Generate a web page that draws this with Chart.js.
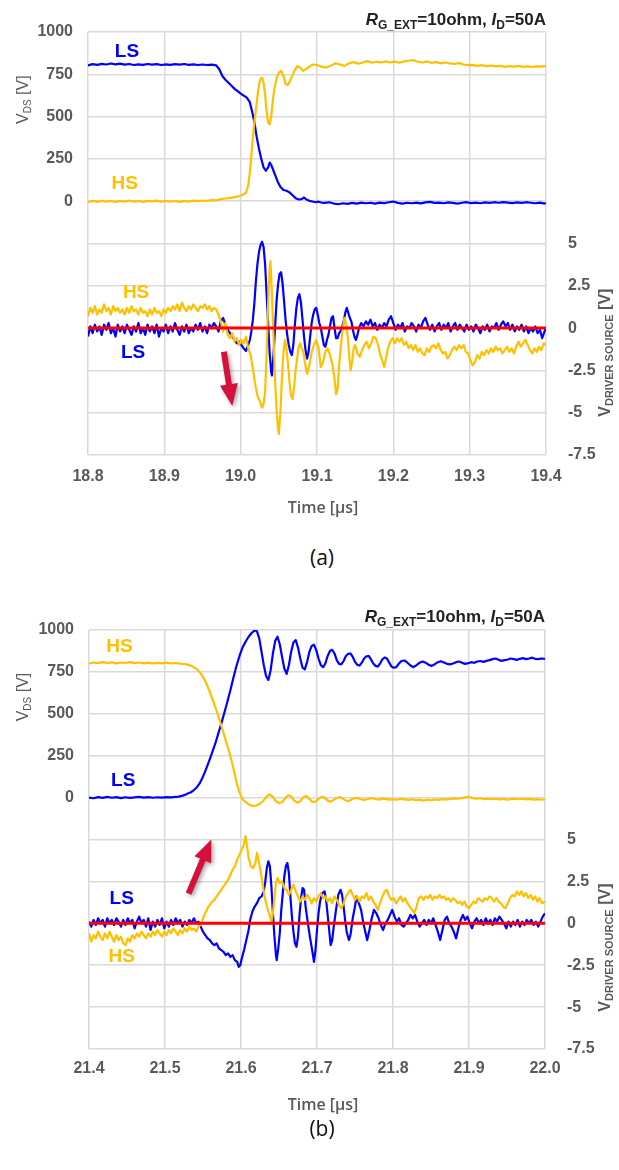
<!DOCTYPE html>
<html><head><meta charset="utf-8">
<script src="https://cdn.jsdelivr.net/npm/chart.js@4.4.1/dist/chart.umd.min.js"></script>
<style>
html,body{margin:0;padding:0;background:#fff;width:619px;height:1170px;overflow:hidden;position:relative;}
canvas{position:absolute;left:0;}
#ca{top:0;} #cb{top:580px;}
.cap{position:absolute;left:0;width:644px;text-align:center;font-family:'Open Sans',sans-serif;font-size:21px;line-height:28px;color:#111;}
</style></head><body>
<canvas id="ca" width="619" height="530"></canvas>
<div class="cap" style="top:543px;">(a)</div>
<canvas id="cb" width="619" height="540"></canvas>
<div class="cap" style="top:1114px;">(b)</div>
<script>
// ---------- tick labels ----------
const VDS_TICKS = [0, 250, 500, 750, 1000];
const DRV_TICKS = [5, 2.5, 0, -2.5, -5, -7.5];
const RANGE_A = [18.8, 19.4];
const RANGE_B = [21.4, 22.0];

// ---------- (a) series: [time µs, value] ----------
const A_LS_VDS = [[18.800,802],[18.806,810],[18.812,806],[18.818,812],[18.824,808],[18.830,814],[18.836,809],[18.842,813],[18.848,807],[18.854,811],[18.860,805],[18.866,809],[18.872,806],[18.878,811],[18.884,807],[18.890,810],[18.896,805],[18.902,809],[18.908,806],[18.914,810],[18.920,807],[18.926,811],[18.932,806],[18.938,809],[18.944,805],[18.950,808],[18.956,805],[18.962,807],[18.968,803],
[18.972,780],[18.976,740],[18.980,718],[18.984,700],[18.988,682],[18.992,664],[18.996,650],[19.000,636],[19.004,624],[19.008,612],[19.012,585],[19.015,530],[19.018,465],[19.021,380],[19.024,310],[19.027,250],[19.030,200],[19.033,180],[19.036,200],[19.038,228],[19.040,215],[19.043,180],[19.046,145],[19.049,110],[19.052,85],[19.056,66],[19.060,62],[19.064,52],[19.068,35],[19.072,18],[19.076,10],[19.080,12],[19.083,22],[19.086,10],[19.090,2],[19.094,-2],[19.098,-6],[19.102,-3],[19.106,-8],
[19.110,-10],[19.116,-6],[19.122,-14],[19.128,-18],[19.134,-12],[19.140,-16],[19.146,-10],[19.152,-14],[19.158,-8],[19.164,-12],[19.170,-9],[19.176,-14],[19.182,-8],[19.188,-11],[19.194,-6],[19.200,-2],[19.206,-10],[19.212,-14],[19.218,-9],[19.224,-12],[19.230,-8],[19.236,-13],[19.242,-7],[19.248,-4],[19.254,-10],[19.260,-8],[19.266,-12],[19.272,-7],[19.278,-10],[19.284,-14],[19.290,-9],[19.296,-6],[19.302,-11],[19.308,-8],[19.314,-12],[19.320,-7],[19.326,-10],[19.332,-6],[19.338,-9],[19.344,-5],[19.350,-8],[19.356,-11],[19.362,-7],[19.368,-10],[19.374,-6],[19.380,-9],[19.386,-12],[19.392,-8],[19.398,-14],[19.400,-10]];

const A_HS_VDS = [[18.800,-6],[18.806,2],[18.812,-4],[18.818,3],[18.824,-3],[18.830,1],[18.836,-5],[18.842,2],[18.848,-2],[18.854,4],[18.860,-3],[18.866,1],[18.872,-4],[18.878,2],[18.884,-1],[18.890,3],[18.896,-3],[18.902,2],[18.908,-2],[18.914,1],[18.920,-4],[18.926,2],[18.932,-2],[18.938,3],[18.944,0],[18.950,4],[18.956,2],[18.962,6],[18.968,5],[18.974,12],[18.980,16],[18.986,20],[18.992,24],[18.998,30],[19.003,38],[19.007,50],
[19.010,95],[19.012,170],[19.014,270],[19.016,380],[19.018,470],[19.020,540],[19.022,620],[19.024,690],[19.026,722],[19.028,730],[19.030,700],[19.032,630],[19.034,530],[19.036,465],[19.038,455],[19.040,500],[19.042,590],[19.044,660],[19.047,725],[19.050,760],[19.053,770],[19.056,740],[19.059,690],[19.062,688],[19.065,715],[19.068,745],[19.071,775],[19.074,798],[19.078,790],[19.082,770],[19.086,782],[19.090,796],[19.095,808],[19.100,805],[19.106,795],[19.112,790],[19.118,800],[19.124,815],[19.130,808],[19.136,800],[19.142,815],[19.148,822],[19.154,812],[19.160,820],[19.166,828],[19.172,818],[19.178,824],[19.184,820],[19.190,826],[19.196,820],[19.202,825],[19.208,818],[19.214,826],[19.220,830],[19.226,834],[19.232,824],[19.238,820],[19.244,826],[19.250,818],[19.256,822],[19.262,815],[19.268,820],[19.274,814],[19.280,812],[19.286,816],[19.292,808],[19.298,804],[19.304,806],[19.310,800],[19.316,804],[19.322,798],[19.328,802],[19.334,797],[19.340,800],[19.346,794],[19.352,798],[19.358,795],[19.364,799],[19.370,794],[19.376,797],[19.382,793],[19.388,797],[19.394,795],[19.400,800]];

const A_HS_DRV = [[18.800,0.7],[18.803,1.2],[18.806,0.9],[18.809,1.3],[18.812,0.8],[18.815,1.1],[18.818,0.9],[18.821,1.4],[18.824,1.0],[18.827,1.2],[18.830,0.8],[18.833,1.3],[18.836,1.0],[18.839,1.2],[18.842,0.9],[18.845,1.1],[18.848,0.8],[18.851,1.2],[18.854,0.9],[18.857,1.3],[18.860,1.0],[18.863,1.1],[18.866,0.8],[18.869,1.2],[18.872,0.9],[18.875,1.0],[18.878,0.7],[18.881,1.1],[18.884,0.8],[18.887,1.2],[18.890,0.9],[18.893,1.0],[18.896,0.7],[18.899,1.1],[18.902,0.9],[18.905,1.2],[18.908,1.0],[18.911,1.3],[18.914,1.1],[18.917,1.4],[18.920,1.0],[18.923,1.5],[18.926,1.2],[18.929,1.0],[18.932,1.3],[18.935,1.1],[18.938,1.4],[18.941,1.2],[18.944,1.0],[18.947,1.3],[18.950,1.2],[18.953,1.4],[18.956,1.1],[18.959,1.3],[18.962,1.0],[18.965,1.2],[18.968,1.1],[18.971,0.8],[18.974,0.4],[18.977,-0.2],[18.980,0.3],[18.983,-0.4],[18.986,-0.6],[18.989,-0.3],[18.992,-0.8],[18.995,-0.6],[18.998,-1.0],[19.001,-0.7],[19.004,-0.9],[19.007,-0.5],[19.010,-1.2],[19.013,-1.6],[19.016,-2.4],[19.019,-3.3],[19.022,-4.0],[19.025,-4.3],[19.028,-4.7],[19.030,-4.5],[19.032,-3.8],[19.034,-1.5],[19.036,1.5],[19.038,3.6],[19.039,3.95],[19.041,2.0],[19.043,-0.5],[19.045,-3.0],[19.047,-4.8],[19.049,-6.0],[19.050,-6.25],[19.052,-5.0],[19.054,-3.0],[19.056,-1.5],[19.058,-0.7],[19.060,-1.2],[19.062,-2.1],[19.064,-3.2],[19.066,-4.0],[19.068,-4.2],[19.070,-3.5],[19.072,-2.5],[19.074,-1.8],[19.076,-1.1],[19.078,-0.9],[19.080,-1.2],[19.082,-1.4],[19.084,-2.0],[19.087,-2.7],[19.090,-2.2],[19.093,-1.4],[19.096,-1.0],[19.099,-0.7],[19.102,-1.2],[19.105,-2.3],[19.108,-2.0],[19.111,-1.4],[19.114,-1.2],[19.117,-1.6],[19.120,-2.1],[19.123,-3.0],[19.125,-3.9],[19.127,-3.6],[19.129,-2.2],[19.131,-1.2],[19.133,-0.3],[19.136,0.6],[19.138,0.3],[19.140,-0.4],[19.142,-1.5],[19.144,-2.5],[19.146,-2.0],[19.148,-1.2],[19.150,-1.0],[19.153,-1.5],[19.156,-1.7],[19.159,-1.3],[19.162,-1.0],[19.165,-0.8],[19.168,-1.2],[19.171,-0.9],[19.174,-0.5],[19.177,-0.6],[19.180,-1.0],[19.183,-1.6],[19.186,-2.0],[19.188,-2.3],[19.190,-1.9],[19.193,-1.2],[19.196,-0.8],[19.199,-0.6],[19.202,-0.9],[19.205,-0.6],[19.208,-0.8],[19.211,-0.6],[19.214,-1.0],[19.217,-0.8],[19.220,-1.2],[19.223,-1.0],[19.226,-1.3],[19.229,-1.0],[19.232,-1.4],[19.235,-1.2],[19.238,-1.5],[19.241,-1.6],[19.244,-1.2],[19.247,-1.4],[19.250,-1.1],[19.253,-1.0],[19.256,-1.2],[19.259,-0.9],[19.262,-1.3],[19.265,-1.5],[19.268,-1.4],[19.271,-1.8],[19.274,-1.6],[19.277,-1.3],[19.280,-1.1],[19.283,-1.3],[19.286,-1.0],[19.289,-1.2],[19.292,-1.0],[19.295,-1.4],[19.298,-1.5],[19.301,-1.9],[19.304,-2.2],[19.307,-2.0],[19.310,-1.6],[19.313,-1.8],[19.316,-1.4],[19.319,-1.6],[19.322,-1.3],[19.325,-1.5],[19.328,-1.2],[19.331,-1.4],[19.334,-1.1],[19.337,-1.3],[19.340,-1.2],[19.343,-1.5],[19.346,-1.3],[19.349,-1.1],[19.352,-1.4],[19.355,-1.2],[19.358,-1.5],[19.361,-1.1],[19.364,-0.8],[19.367,-1.1],[19.370,-0.9],[19.373,-0.7],[19.376,-1.0],[19.379,-1.3],[19.382,-1.5],[19.385,-1.2],[19.388,-1.4],[19.391,-1.1],[19.394,-1.3],[19.397,-0.9],[19.400,-1.0]];

const A_LS_DRV = [[18.800,-0.5],[18.803,0.1],[18.806,-0.3],[18.809,0.2],[18.812,-0.2],[18.815,0.1],[18.818,-0.4],[18.821,0.2],[18.824,-0.1],[18.827,0.3],[18.830,-0.3],[18.833,0.0],[18.836,-0.5],[18.839,0.2],[18.842,-0.2],[18.845,0.1],[18.848,-0.3],[18.851,0.2],[18.854,-0.1],[18.857,-0.4],[18.860,0.1],[18.863,-0.2],[18.866,0.3],[18.869,-0.3],[18.872,0.0],[18.875,-0.4],[18.878,0.2],[18.881,-0.2],[18.884,0.1],[18.887,-0.3],[18.890,0.2],[18.893,-0.5],[18.896,0.0],[18.899,-0.2],[18.902,0.2],[18.905,-0.3],[18.908,0.1],[18.911,-0.2],[18.914,0.3],[18.917,-0.1],[18.920,-0.4],[18.923,0.1],[18.926,-0.2],[18.929,0.2],[18.932,-0.3],[18.935,0.0],[18.938,-0.2],[18.941,0.2],[18.944,-0.1],[18.947,0.3],[18.950,-0.2],[18.953,0.1],[18.956,-0.3],[18.959,0.2],[18.962,0.0],[18.965,0.3],[18.968,0.1],[18.971,-0.2],[18.974,0.4],[18.977,0.6],[18.980,0.2],[18.983,-0.1],[18.986,-0.3],[18.989,-0.5],[18.992,-0.7],[18.995,-0.9],[18.998,-0.8],[19.001,-1.0],[19.004,-1.2],[19.007,-1.35],[19.010,-1.0],[19.012,-0.7],[19.014,-0.2],[19.016,0.5],[19.018,1.5],[19.020,2.8],[19.022,3.8],[19.024,4.5],[19.026,4.9],[19.028,5.1],[19.030,4.8],[19.032,3.8],[19.034,2.0],[19.036,0.3],[19.038,-1.5],[19.040,-2.6],[19.041,-2.8],[19.043,-1.6],[19.045,0.0],[19.047,1.6],[19.049,2.6],[19.051,3.2],[19.053,3.3],[19.055,2.6],[19.057,1.5],[19.059,0.4],[19.061,-0.4],[19.063,-1.0],[19.065,-1.4],[19.067,-1.6],[19.069,-1.0],[19.071,0.2],[19.073,1.2],[19.075,1.8],[19.077,2.0],[19.079,1.5],[19.081,0.5],[19.083,-0.5],[19.085,-1.3],[19.087,-1.8],[19.089,-1.4],[19.091,-0.5],[19.093,0.3],[19.095,0.8],[19.097,1.1],[19.099,1.2],[19.101,0.8],[19.103,0.3],[19.105,0.0],[19.107,-0.5],[19.109,-1.0],[19.111,-1.1],[19.113,-0.7],[19.115,-0.4],[19.117,0.1],[19.119,0.6],[19.121,0.7],[19.123,0.0],[19.125,-0.6],[19.127,-0.6],[19.129,-0.3],[19.132,-0.1],[19.135,0.4],[19.137,0.9],[19.139,1.2],[19.141,0.9],[19.143,0.6],[19.145,0.4],[19.147,-0.1],[19.149,-0.5],[19.151,-0.7],[19.153,-0.4],[19.155,0.0],[19.158,0.3],[19.161,0.1],[19.164,0.4],[19.167,0.2],[19.170,0.5],[19.173,0.1],[19.176,0.3],[19.179,-0.1],[19.182,0.2],[19.185,0.0],[19.188,0.3],[19.191,0.1],[19.194,0.5],[19.197,0.7],[19.200,0.3],[19.203,-0.1],[19.206,0.2],[19.209,0.0],[19.212,0.3],[19.215,-0.2],[19.218,0.1],[19.221,0.0],[19.224,0.3],[19.227,0.1],[19.230,-0.2],[19.233,0.2],[19.236,0.0],[19.239,0.4],[19.242,0.6],[19.245,0.2],[19.248,-0.1],[19.251,0.2],[19.254,-0.2],[19.257,0.1],[19.260,0.3],[19.263,-0.1],[19.266,0.2],[19.269,0.0],[19.272,0.3],[19.275,-0.2],[19.278,0.1],[19.281,0.3],[19.284,-0.1],[19.287,0.2],[19.290,0.0],[19.293,-0.2],[19.296,0.2],[19.299,-0.1],[19.302,0.1],[19.305,-0.2],[19.308,0.2],[19.311,0.0],[19.314,-0.3],[19.317,0.1],[19.320,-0.1],[19.323,0.2],[19.326,-0.2],[19.329,0.1],[19.332,0.0],[19.335,0.3],[19.338,-0.1],[19.341,0.2],[19.344,0.4],[19.347,0.1],[19.350,0.3],[19.353,-0.1],[19.356,0.2],[19.359,-0.2],[19.362,0.1],[19.365,-0.1],[19.368,0.2],[19.371,-0.2],[19.374,0.1],[19.377,-0.3],[19.380,0.0],[19.383,-0.2],[19.386,0.1],[19.389,-0.3],[19.392,-0.1],[19.395,-0.6],[19.398,-0.2],[19.400,0.0]];

const A_ZERO = [[18.8,0],[19.4,0]];

// ---------- (b) series ----------
const B_HS_VDS = [[21.400,800],[21.406,806],[21.412,802],[21.418,808],[21.424,803],[21.430,807],[21.436,801],[21.442,806],[21.448,803],[21.454,808],[21.460,802],[21.466,806],[21.472,801],[21.478,805],[21.484,800],[21.490,804],[21.496,801],[21.502,805],[21.508,800],[21.514,803],[21.520,799],[21.526,797],[21.531,792],[21.535,785],[21.539,775],[21.543,762],[21.547,742],[21.551,712],[21.555,675],[21.559,630],[21.563,580],[21.567,530],[21.571,475],[21.575,415],[21.579,355],[21.583,295],[21.587,230],[21.591,155],[21.594,95],[21.597,45],[21.600,10],[21.603,-15],[21.607,-30],[21.611,-42],[21.615,-50],[21.619,-48],[21.623,-42],[21.627,-30],[21.631,-10],[21.635,12],[21.638,18],[21.642,5],[21.646,-22],[21.650,-33],[21.654,-28],[21.658,-5],[21.662,14],[21.666,8],[21.670,-18],[21.674,-30],[21.678,-22],[21.682,2],[21.686,10],[21.690,-8],[21.694,-26],[21.698,-24],[21.702,-8],[21.706,4],[21.710,0],[21.714,-18],[21.718,-24],[21.722,-14],[21.726,-2],[21.730,4],[21.734,-6],[21.738,-18],[21.742,-20],[21.746,-10],[21.750,-2],[21.754,-3],[21.758,-10],[21.762,-14],[21.766,-10],[21.770,-4],[21.774,-5],[21.778,-10],[21.782,-12],[21.786,-6],[21.790,-8],[21.795,-12],[21.800,-9],[21.805,-13],[21.810,-8],[21.815,-11],[21.820,-14],[21.825,-10],[21.830,-15],[21.835,-12],[21.840,-18],[21.845,-13],[21.850,-16],[21.855,-11],[21.860,-14],[21.865,-9],[21.870,-12],[21.875,-8],[21.880,-5],[21.885,-7],[21.890,-3],[21.895,1],[21.900,4],[21.905,-3],[21.910,-7],[21.915,-4],[21.920,-9],[21.925,-6],[21.930,-10],[21.935,-7],[21.940,-11],[21.945,-8],[21.950,-12],[21.955,-9],[21.960,-6],[21.965,-10],[21.970,-7],[21.975,-11],[21.980,-8],[21.985,-12],[21.990,-9],[21.995,-13],[22.000,-10]];

const B_LS_VDS = [[21.400,0],[21.406,-4],[21.412,3],[21.418,-2],[21.424,4],[21.430,-1],[21.436,3],[21.442,-3],[21.448,2],[21.454,-2],[21.460,1],[21.466,4],[21.472,0],[21.478,3],[21.484,-1],[21.490,2],[21.496,0],[21.502,3],[21.508,1],[21.514,4],[21.518,6],[21.522,10],[21.526,16],[21.530,24],[21.534,32],[21.538,45],[21.542,62],[21.546,88],[21.550,125],[21.554,170],[21.558,218],[21.562,268],[21.566,320],[21.570,380],[21.574,440],[21.578,505],[21.582,570],[21.586,640],[21.590,715],[21.594,785],[21.598,845],[21.602,895],[21.606,930],[21.610,960],[21.614,982],[21.618,998],[21.621,992],[21.624,950],[21.627,870],[21.630,790],[21.633,725],[21.636,702],[21.639,760],[21.642,860],[21.645,935],[21.648,960],[21.651,915],[21.654,840],[21.657,770],[21.660,738],[21.663,790],[21.666,870],[21.669,925],[21.672,940],[21.675,895],[21.678,830],[21.681,775],[21.684,765],[21.687,810],[21.690,870],[21.693,905],[21.696,912],[21.699,880],[21.702,830],[21.705,790],[21.708,778],[21.711,800],[21.714,845],[21.717,875],[21.720,882],[21.723,860],[21.726,820],[21.729,798],[21.732,795],[21.735,815],[21.738,845],[21.741,858],[21.744,860],[21.747,840],[21.750,810],[21.753,792],[21.756,788],[21.759,805],[21.762,830],[21.765,843],[21.768,845],[21.771,825],[21.774,800],[21.777,786],[21.780,782],[21.783,800],[21.786,825],[21.789,836],[21.792,830],[21.795,805],[21.798,782],[21.801,775],[21.804,778],[21.807,795],[21.811,815],[21.815,818],[21.819,805],[21.823,788],[21.827,778],[21.831,790],[21.835,805],[21.839,812],[21.843,805],[21.847,792],[21.851,786],[21.855,796],[21.859,808],[21.863,814],[21.867,806],[21.871,798],[21.875,795],[21.879,800],[21.883,808],[21.887,812],[21.891,804],[21.895,798],[21.899,802],[21.903,808],[21.907,804],[21.911,812],[21.915,815],[21.919,810],[21.923,816],[21.927,820],[21.931,826],[21.935,830],[21.939,822],[21.943,816],[21.947,820],[21.951,824],[21.955,830],[21.959,826],[21.963,822],[21.967,828],[21.971,832],[21.975,826],[21.979,830],[21.983,835],[21.987,828],[21.991,826],[21.995,830],[22.000,828]];

const B_HS_DRV = [[21.400,-0.6],[21.403,-1.1],[21.406,-0.7],[21.409,-0.9],[21.412,-0.5],[21.415,-0.8],[21.418,-1.0],[21.421,-0.6],[21.424,-0.9],[21.427,-0.5],[21.430,-0.8],[21.433,-1.1],[21.436,-0.7],[21.439,-1.0],[21.442,-0.8],[21.445,-1.2],[21.448,-1.3],[21.451,-0.9],[21.454,-1.1],[21.457,-0.7],[21.460,-0.9],[21.463,-0.6],[21.466,-0.8],[21.469,-0.5],[21.472,-0.7],[21.475,-0.9],[21.478,-0.6],[21.481,-0.8],[21.484,-0.5],[21.487,-0.7],[21.490,-0.4],[21.493,-0.6],[21.496,-0.8],[21.499,-0.5],[21.502,-0.7],[21.505,-0.4],[21.508,-0.6],[21.511,-0.3],[21.514,-0.5],[21.517,-0.7],[21.520,-0.4],[21.523,-0.6],[21.526,-0.3],[21.529,-0.5],[21.532,-0.2],[21.535,-0.4],[21.538,-0.3],[21.541,-0.5],[21.544,-0.2],[21.547,-0.1],[21.550,0.3],[21.553,0.6],[21.556,0.9],[21.559,1.1],[21.562,1.3],[21.565,1.4],[21.568,1.6],[21.571,1.8],[21.574,2.0],[21.577,2.2],[21.580,2.4],[21.583,2.6],[21.586,2.9],[21.589,3.2],[21.592,3.4],[21.595,3.8],[21.598,4.1],[21.601,4.4],[21.603,4.6],[21.605,5.0],[21.606,5.2],[21.608,4.6],[21.610,3.9],[21.613,3.4],[21.616,3.3],[21.619,3.6],[21.621,4.2],[21.623,3.8],[21.625,3.3],[21.628,2.5],[21.631,1.6],[21.634,1.0],[21.637,0.6],[21.640,0.1],[21.642,0.6],[21.644,1.5],[21.646,2.4],[21.648,2.7],[21.651,2.4],[21.654,2.5],[21.657,2.1],[21.660,2.0],[21.663,1.7],[21.666,2.0],[21.669,2.3],[21.672,1.9],[21.675,1.6],[21.678,1.3],[21.681,1.6],[21.684,1.4],[21.687,1.7],[21.690,1.5],[21.693,1.2],[21.696,1.5],[21.699,1.3],[21.702,1.6],[21.705,1.8],[21.708,1.5],[21.711,1.6],[21.714,1.3],[21.717,1.5],[21.720,1.2],[21.723,1.6],[21.726,1.4],[21.729,1.1],[21.732,0.9],[21.735,1.2],[21.738,1.6],[21.741,1.8],[21.744,2.0],[21.747,1.7],[21.750,1.4],[21.753,1.6],[21.756,1.3],[21.759,1.6],[21.762,1.5],[21.765,1.8],[21.768,1.4],[21.771,1.6],[21.774,1.3],[21.777,1.1],[21.780,0.8],[21.783,1.2],[21.786,1.6],[21.789,1.9],[21.792,2.0],[21.795,1.6],[21.798,1.4],[21.801,1.5],[21.804,1.2],[21.807,1.4],[21.810,1.6],[21.813,1.3],[21.816,1.5],[21.819,1.2],[21.822,1.0],[21.825,0.8],[21.828,0.6],[21.831,1.0],[21.834,1.5],[21.837,1.6],[21.840,1.4],[21.843,1.6],[21.846,1.5],[21.849,1.7],[21.852,1.4],[21.855,1.6],[21.858,1.5],[21.861,1.7],[21.864,1.5],[21.867,1.6],[21.870,1.4],[21.873,1.5],[21.876,1.3],[21.879,1.5],[21.882,1.4],[21.885,1.2],[21.888,1.3],[21.891,1.1],[21.894,1.3],[21.897,1.0],[21.900,0.9],[21.903,1.1],[21.906,1.3],[21.909,1.2],[21.912,1.5],[21.915,1.4],[21.918,1.3],[21.921,1.5],[21.924,1.4],[21.927,1.6],[21.930,1.5],[21.933,1.3],[21.936,1.5],[21.939,1.3],[21.942,1.2],[21.945,1.0],[21.948,0.9],[21.951,1.2],[21.954,1.5],[21.957,1.7],[21.960,1.6],[21.963,1.9],[21.966,1.7],[21.969,1.9],[21.972,1.6],[21.975,1.8],[21.978,1.5],[21.981,1.7],[21.984,1.4],[21.987,1.6],[21.990,1.3],[21.993,1.5],[21.996,1.2],[22.000,1.3]];

const B_LS_DRV = [[21.400,0.1],[21.403,-0.2],[21.406,0.2],[21.409,-0.1],[21.412,0.3],[21.415,0.0],[21.418,0.2],[21.421,-0.2],[21.424,0.3],[21.427,0.0],[21.430,0.2],[21.433,-0.1],[21.436,0.3],[21.439,0.1],[21.442,-0.2],[21.445,0.2],[21.448,-0.1],[21.451,0.3],[21.454,0.0],[21.457,0.2],[21.460,-0.3],[21.463,0.1],[21.466,0.4],[21.469,0.0],[21.472,0.2],[21.475,-0.2],[21.478,0.3],[21.481,-0.4],[21.484,0.1],[21.487,-0.2],[21.490,0.2],[21.493,-0.1],[21.496,0.3],[21.499,-0.3],[21.502,0.1],[21.505,-0.2],[21.508,0.2],[21.511,-0.1],[21.514,0.3],[21.517,0.0],[21.520,0.2],[21.523,-0.2],[21.526,0.1],[21.529,-0.1],[21.532,0.2],[21.535,0.0],[21.538,0.3],[21.541,0.0],[21.544,0.1],[21.547,-0.2],[21.550,-0.5],[21.553,-0.7],[21.556,-0.9],[21.559,-1.0],[21.562,-1.2],[21.565,-1.3],[21.568,-1.2],[21.571,-1.5],[21.574,-1.6],[21.577,-1.7],[21.580,-1.9],[21.583,-1.8],[21.586,-2.0],[21.589,-1.9],[21.592,-2.2],[21.595,-2.3],[21.597,-2.6],[21.599,-2.5],[21.601,-2.1],[21.604,-1.6],[21.607,-1.0],[21.610,-0.4],[21.612,0.2],[21.615,0.7],[21.618,1.0],[21.621,1.2],[21.624,1.5],[21.627,1.6],[21.630,1.9],[21.632,2.5],[21.634,3.3],[21.636,3.7],[21.638,3.4],[21.640,2.2],[21.642,0.6],[21.644,-0.8],[21.646,-1.9],[21.647,-2.2],[21.649,-1.5],[21.651,-0.6],[21.653,0.8],[21.655,1.8],[21.657,2.8],[21.659,3.4],[21.661,3.6],[21.663,3.0],[21.665,1.6],[21.667,0.4],[21.669,-0.5],[21.671,-1.2],[21.673,-1.4],[21.675,-0.8],[21.677,0.5],[21.679,1.5],[21.681,2.1],[21.683,2.0],[21.685,1.0],[21.688,0.0],[21.691,-0.9],[21.694,-1.7],[21.696,-2.3],[21.698,-1.6],[21.700,-0.4],[21.702,0.6],[21.704,1.3],[21.707,1.8],[21.710,1.9],[21.712,1.4],[21.714,0.5],[21.716,-0.4],[21.718,-1.3],[21.720,-1.0],[21.722,-0.2],[21.725,0.8],[21.728,1.7],[21.731,2.0],[21.733,1.7],[21.735,1.0],[21.737,0.2],[21.739,-0.5],[21.742,-1.0],[21.744,-0.7],[21.747,0.3],[21.750,1.0],[21.752,1.6],[21.755,1.2],[21.758,0.8],[21.761,0.0],[21.764,-0.6],[21.766,-1.0],[21.769,-0.4],[21.772,0.3],[21.775,0.8],[21.778,0.6],[21.781,0.3],[21.784,-0.1],[21.787,-0.4],[21.790,0.0],[21.793,0.2],[21.796,0.5],[21.799,0.8],[21.802,0.4],[21.805,0.1],[21.808,0.3],[21.811,-0.1],[21.814,-0.2],[21.817,0.0],[21.820,0.2],[21.823,0.5],[21.826,0.3],[21.829,0.5],[21.832,0.1],[21.835,-0.2],[21.838,0.0],[21.841,0.2],[21.844,-0.1],[21.847,0.2],[21.850,0.0],[21.853,0.3],[21.856,-0.1],[21.859,-0.5],[21.862,-1.0],[21.865,-0.4],[21.868,0.2],[21.871,0.4],[21.874,0.0],[21.877,-0.2],[21.880,-0.5],[21.883,-0.9],[21.886,-0.3],[21.889,0.2],[21.892,0.5],[21.895,0.2],[21.898,0.4],[21.901,0.0],[21.904,-0.3],[21.907,0.1],[21.910,0.3],[21.913,0.0],[21.916,0.2],[21.919,-0.1],[21.922,0.3],[21.925,0.0],[21.928,0.2],[21.931,-0.1],[21.934,0.3],[21.937,0.1],[21.940,0.4],[21.943,0.2],[21.946,0.0],[21.949,-0.3],[21.952,0.1],[21.955,-0.2],[21.958,0.1],[21.961,-0.1],[21.964,0.2],[21.967,-0.2],[21.970,0.1],[21.973,-0.1],[21.976,0.2],[21.979,0.0],[21.982,0.2],[21.985,-0.1],[21.988,0.1],[21.991,-0.2],[21.994,0.1],[21.997,0.4],[22.000,0.6]];

const B_ZERO = [[21.4,0],[22.0,0]];

// ---------- annotation anchors (data space) ----------
const A_LABELS = [
  {text:'LS', t:18.851, v:882, axis:'y', c:'blue'},
  {text:'HS', t:18.848, v:105, axis:'y', c:'yel'},
  {text:'HS', t:18.863, v:2.11, axis:'y2', c:'yel'},
  {text:'LS', t:18.859, v:-1.44, axis:'y2', c:'blue'}];
const A_ARROW = [18.978, -1.40, 18.989, -4.61];
const B_LABELS = [
  {text:'HS', t:21.440, v:900, axis:'y', c:'yel'},
  {text:'LS', t:21.445, v:99, axis:'y', c:'blue'},
  {text:'LS', t:21.443, v:1.47, axis:'y2', c:'blue'},
  {text:'HS', t:21.443, v:-2.01, axis:'y2', c:'yel'}];
const B_ARROW = [21.531, 1.77, 21.561, 5.0];

// ---------- styling ----------
const BLUE = '#0000ff', YEL = '#ffc000', RED = '#ff0000', GRID = '#d9d9d9', TXT = '#595959';
const FONT = '"Liberation Sans", Arial, sans-serif';
const COLORS = {blue: BLUE, yel: YEL};

function rich(ctx, parts, x, y, align) {
  let w = 0;
  parts.forEach(p => { ctx.font = p.f; p.w = ctx.measureText(p.t).width; w += p.w; });
  let cx = align === 'right' ? x - w : (align === 'center' ? x - w / 2 : x);
  ctx.textAlign = 'left';
  parts.forEach(p => { ctx.font = p.f; ctx.fillText(p.t, cx, y + (p.dy || 0)); cx += p.w; });
}

const decor = {
  id: 'decor',
  afterDatasetsDraw(chart, args, o) {
    const ctx = chart.ctx, xs = chart.scales.x, yl = chart.scales.y, yr = chart.scales.y2, ca = chart.chartArea;
    ctx.save();
    // arrow
    const a = o.arrow;
    const x0 = xs.getPixelForValue(a[0]), y0 = yr.getPixelForValue(a[1]);
    const x1 = xs.getPixelForValue(a[2]), y1 = yr.getPixelForValue(a[3]);
    const ang = Math.atan2(y1 - y0, x1 - x0), len = Math.hypot(x1 - x0, y1 - y0);
    ctx.save();
    ctx.translate(x0, y0); ctx.rotate(ang);
    ctx.shadowColor = 'rgba(0,0,0,0.35)'; ctx.shadowBlur = 4; ctx.shadowOffsetX = 2; ctx.shadowOffsetY = 2;
    const hl = 22, hw = 9, sw = 3;
    ctx.fillStyle = '#d5103a';
    ctx.beginPath();
    ctx.moveTo(0, -sw); ctx.lineTo(len - hl, -sw); ctx.lineTo(len - hl, -hw); ctx.lineTo(len, 0);
    ctx.lineTo(len - hl, hw); ctx.lineTo(len - hl, sw); ctx.lineTo(0, sw); ctx.closePath(); ctx.fill();
    ctx.restore();
    // series labels
    ctx.font = 'bold 19px ' + FONT; ctx.textAlign = 'center'; ctx.textBaseline = 'middle';
    o.labels.forEach(l => {
      const sc = l.axis === 'y2' ? yr : yl;
      ctx.fillStyle = COLORS[l.c];
      ctx.fillText(l.text, xs.getPixelForValue(l.t), sc.getPixelForValue(l.v));
    });
    // corner title
    ctx.fillStyle = '#222'; ctx.textBaseline = 'alphabetic';
    rich(ctx, [
      {t:'R', f:'italic bold 17px ' + FONT},
      {t:'G_EXT', f:'bold 12px ' + FONT, dy:4},
      {t:'=10ohm, ', f:'bold 17px ' + FONT},
      {t:'I', f:'italic bold 17px ' + FONT},
      {t:'D', f:'bold 12px ' + FONT, dy:4},
      {t:'=50A', f:'bold 17px ' + FONT}], ca.right, ca.top - o.titleGap, 'right');
    // x axis title
    ctx.fillStyle = TXT; ctx.textBaseline = 'middle'; ctx.textAlign = 'center';
    ctx.font = '600 16px "Open Sans", sans-serif';
    ctx.fillText('Time [µs]', o.timeX, ca.bottom + o.timeDy);
    // left axis title
    ctx.save();
    ctx.translate(24, yl.getPixelForValue(600)); ctx.rotate(-Math.PI / 2);
    rich(ctx, [
      {t:'V', f:'16px ' + FONT},
      {t:'DS', f:'10px ' + FONT, dy:4},
      {t:' [V]', f:'16px ' + FONT}], 0, 0, 'center');
    ctx.restore();
    // right axis title
    ctx.save();
    ctx.translate(606, yr.getPixelForValue(-1.45)); ctx.rotate(-Math.PI / 2);
    rich(ctx, [
      {t:'V', f:'bold 16px ' + FONT},
      {t:'DRIVER SOURCE', f:'bold 11px ' + FONT, dy:4},
      {t:' [V]', f:'bold 16px ' + FONT}], 0, 0, 'center');
    ctx.restore();
    ctx.restore();
  }
};

const xy = arr => arr.map(p => ({x: p[0], y: p[1]}));

function build(id, p) {
  const tickFont = {family: FONT, size: 16, weight: 'bold'};
  return new Chart(document.getElementById(id), {
    type: 'line',
    data: {datasets: [
      {data: xy(p.zero), yAxisID: 'y2', borderColor: RED, borderWidth: 3, order: 0},
      {data: xy(p.hsDrv), yAxisID: 'y2', borderColor: YEL, borderWidth: 2.2, order: 1},
      {data: xy(p.hsVds), yAxisID: 'y', borderColor: YEL, borderWidth: 2.2, order: 1},
      {data: xy(p.lsDrv), yAxisID: 'y2', borderColor: BLUE, borderWidth: 2.2, order: 2},
      {data: xy(p.lsVds), yAxisID: 'y', borderColor: BLUE, borderWidth: 2.2, order: 2}
    ]},
    options: {
      responsive: false, animation: false, devicePixelRatio: 1,
      layout: {padding: {top: p.top, left: 0, right: 0, bottom: 0}, autoPadding: false},
      elements: {point: {radius: 0}, line: {tension: 0, fill: false, borderJoinStyle: 'round'}},
      plugins: {legend: {display: false}, tooltip: {enabled: false},
        decor: {labels: p.labels, arrow: p.arrow, timeX: p.timeX, timeDy: p.timeDy, titleGap: p.titleGap}},
      scales: {
        x: {type: 'linear', min: p.range[0], max: p.range[1],
          afterFit: s => { s.height = p.xh; },
          grid: {color: GRID, lineWidth: 1.5, drawTicks: false}, border: {display: false},
          ticks: {stepSize: 0.1, padding: p.xpad, color: TXT, font: tickFont, maxRotation: 0, autoSkip: false,
            callback: v => Number(v).toFixed(1)}},
        y: {position: 'left', min: -1500, max: 1000,
          afterFit: s => { s.width = p.left; },
          grid: {color: GRID, lineWidth: 1.5, drawTicks: false}, border: {display: false},
          ticks: {stepSize: 250, padding: 15, color: TXT, font: tickFont,
            callback: v => VDS_TICKS.includes(v) ? String(v) : ''}},
        y2: {position: 'right', min: -7.5, max: 17.5,
          afterFit: s => { s.width = 619 - p.right; },
          grid: {display: false}, border: {display: false},
          ticks: {stepSize: 2.5, padding: 14, color: TXT, font: tickFont,
            callback: v => DRV_TICKS.includes(v) ? String(v) : ''}}
      }
    },
    plugins: [decor]
  });
}

build('ca', {zero: A_ZERO, hsDrv: A_HS_DRV, hsVds: A_HS_VDS, lsDrv: A_LS_DRV, lsVds: A_LS_VDS,
  range: RANGE_A, labels: A_LABELS, arrow: A_ARROW, top: 32, xh: 75, xpad: 12, left: 88, right: 546,
  timeX: 323, timeDy: 53, titleGap: 7});
build('cb', {zero: B_ZERO, hsDrv: B_HS_DRV, hsVds: B_HS_VDS, lsDrv: B_LS_DRV, lsVds: B_LS_VDS,
  range: RANGE_B, labels: B_LABELS, arrow: B_ARROW, top: 50, xh: 71, xpad: 10, left: 89, right: 545,
  timeX: 323, timeDy: 56, titleGap: 8});
</script>
</body></html>
